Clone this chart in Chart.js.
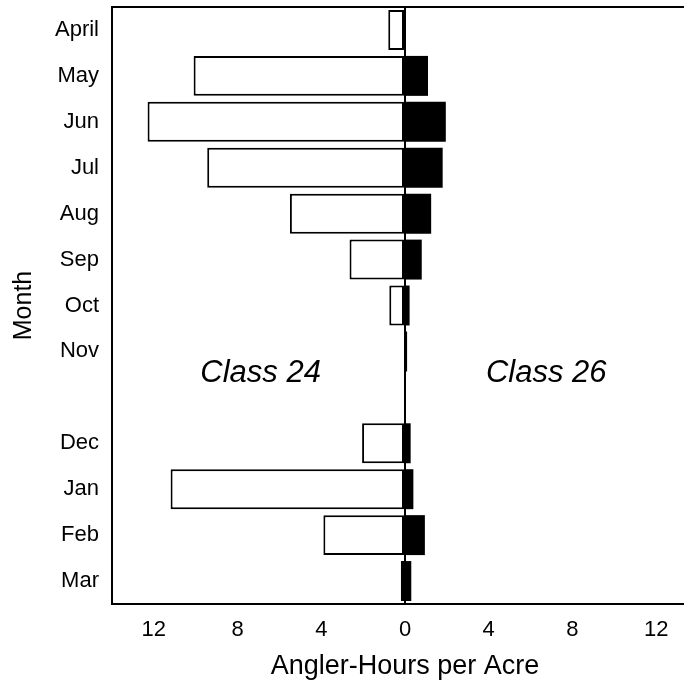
<!DOCTYPE html>
<html>
<head>
<meta charset="utf-8">
<script src="https://cdn.jsdelivr.net/npm/chart.js@4"></script>
<style>
  html, body { margin: 0; padding: 0; background: #fff; overflow: hidden; }
  #wrap { width: 698px; height: 683px; }
</style>
</head>
<body>
<div id="wrap"><canvas id="chart"></canvas></div>
<script>
// months, with an empty slot between Nov and Dec as in the figure
const months = ['April', 'May', 'Jun', 'Jul', 'Aug', 'Sep', 'Oct', 'Nov', '', 'Dec', 'Jan', 'Feb', 'Mar'];
// Class 24 drawn to the left (negative), Class 26 to the right
const class24 = [-0.8, -10.1, -12.3, -9.45, -5.5, -2.65, -0.75, 0, null, -2.05, -11.2, -3.9, -0.2];
const class26 = [0, 1.1, 1.95, 1.8, 1.25, 0.8, 0.22, 0.1, null, 0.27, 0.4, 0.95, 0.3];
const xTicks = [-12, -8, -4, 0, 4, 8, 12];
const classLabels = ['Class 24', 'Class 26'];
const classLabelX = [-6.9, 6.75];

const FONT = '"Liberation Sans", Arial, Helvetica, sans-serif';

const frameTop = {
    id: 'frameTop',
    afterDatasetsDraw(chart) {
        const { ctx, chartArea, scales } = chart;
        ctx.save();
        ctx.strokeStyle = '#000';
        ctx.lineWidth = 2;
        ctx.beginPath();
        ctx.moveTo(chartArea.left - 1, chartArea.top);
        ctx.lineTo(chartArea.right, chartArea.top);
        ctx.stroke();

        // class names
        ctx.fillStyle = '#000';
        ctx.font = 'italic 31px ' + FONT;
        ctx.textAlign = 'center';
        ctx.textBaseline = 'middle';
        const y = scales.y.getPixelForValue(7.47);
        classLabels.forEach((label, i) => {
            ctx.fillText(label, scales.x.getPixelForValue(classLabelX[i]), y);
        });
        ctx.restore();
    }
};

new Chart(document.getElementById('chart'), {
    type: 'bar',
    data: {
        labels: months,
        datasets: [{
            label: 'Class 24',
            data: class24,
            backgroundColor: '#fff',
            borderColor: '#000',
            borderWidth: 2,
            borderSkipped: false
        }, {
            label: 'Class 26',
            data: class26,
            backgroundColor: '#000',
            borderColor: '#000',
            borderWidth: 0
        }]
    },
    options: {
        indexAxis: 'y',
        responsive: true,
        maintainAspectRatio: false,
        animation: false,
        layout: { padding: { top: 7, right: 0, left: 0, bottom: 0 } },
        datasets: {
            bar: { categoryPercentage: 1, barPercentage: 0.87 }
        },
        plugins: {
            legend: { display: false },
            tooltip: { enabled: false }
        },
        scales: {
            x: {
                stacked: true,
                min: -14,
                max: 14,
                afterBuildTicks: (scale) => {
                    scale.ticks = xTicks.map(v => ({ value: v }));
                },
                afterFit: (scale) => {
                    scale.height = 79;
                    scale.paddingLeft = 0;
                    scale.paddingRight = 0;
                },
                ticks: {
                    padding: 13,
                    color: '#000',
                    font: { family: FONT, size: 22 },
                    callback: (v) => Math.abs(v)
                },
                grid: {
                    drawTicks: false,
                    color: (c) => (c.tick && c.tick.value === 0 ? '#000' : 'rgba(0,0,0,0)'),
                    lineWidth: 2
                },
                border: { display: true, color: '#000', width: 2 },
                title: {
                    display: true,
                    text: 'Angler-Hours per Acre',
                    color: '#000',
                    font: { family: FONT, size: 27 },
                    padding: { top: 4, bottom: 0 }
                }
            },
            y: {
                stacked: true,
                afterFit: (scale) => {
                    scale.width = 112;
                    scale.paddingTop = 0;
                    scale.paddingBottom = 0;
                },
                ticks: {
                    padding: 13,
                    color: '#000',
                    font: { family: FONT, size: 22 }
                },
                grid: { display: false, drawTicks: false },
                border: { display: true, color: '#000', width: 2 },
                title: {
                    display: true,
                    text: 'Month',
                    color: '#000',
                    font: { family: FONT, size: 25 },
                    padding: { top: 9, bottom: 4 }
                }
            }
        }
    },
    plugins: [frameTop]
});
</script>
</body>
</html>
